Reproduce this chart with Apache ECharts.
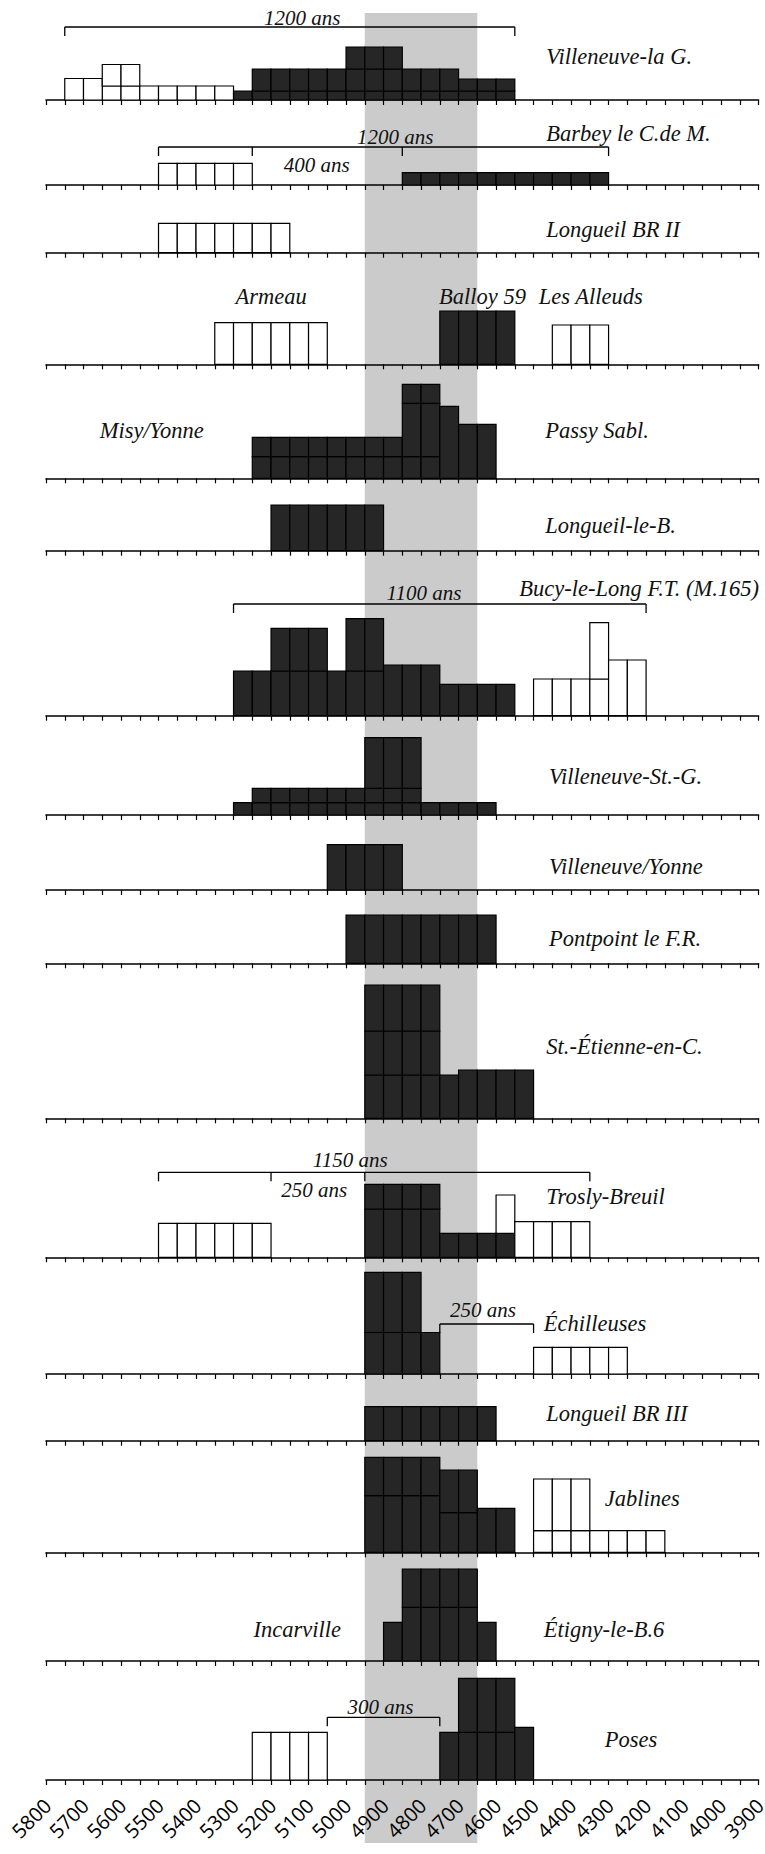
<!DOCTYPE html>
<html>
<head>
<meta charset="utf-8">
<script src="https://cdn.jsdelivr.net/npm/echarts@6/dist/echarts.min.js"></script>
<style>
html,body{margin:0;padding:0;background:#fff}
#chart{width:765px;height:1854px}
</style>
</head>
<body>
<div id="chart"></div>
<script>
// axe des ans : 5800 (gauche) -> 3900 (droite), une case = 50 ans
var yearMin = 3900, yearMax = 5800, cellYears = 50;
var tickLabels = ['5800','5700','5600','5500','5400','5300','5200','5100','5000','4900',
                  '4800','4700','4600','4500','4400','4300','4200','4100','4000','3900'];
var bandYears = [4950, 4650];

// blocs : [type, de, a, hauteur]  b = noir, w = blanc ; empiles de bas en haut
var villeneuveLaG = [['w',5650,5300,14],['w',5750,5550,21.5],['b',5300,4550,9],['b',5250,4700,22],['b',5000,4850,22],['b',4700,4550,12]];
var barbey = [['w',5500,5250,21.7],['b',4850,4300,12.3]];
var longueilBR2 = [['w',5500,5150,29.3]];
var armeauBalloy = [['w',5350,5050,41.7],['b',4750,4550,53.3],['w',4450,4300,39.3]];
var passySabl = [['b',5250,4750,21.7],['b',5250,4850,19.3],['b',4850,4750,53.3],['b',4850,4750,19],['b',4750,4700,72],['b',4700,4600,54]];
var longueilLeB = [['b',5200,4900,45.7]];
var bucy = [['b',5300,4900,44.7],['b',5200,5050,42.6],['b',5000,4900,52.3],['b',4900,4750,50.7],['b',4750,4550,31.3],
            ['w',4500,4300,36.7],['w',4350,4300,56.3],['w',4300,4200,55.7]];
var villeneuveStG = [['b',5300,4600,12.3],['b',5250,4800,14.4],['b',4950,4800,50.6]];
var villeneuveYonne = [['b',5050,4850,45.3]];
var pontpoint = [['b',5000,4600,48.3]];
var stEtienne = [['b',4950,4700,43.3],['b',4950,4750,44],['b',4950,4750,46],['b',4700,4500,48.3]];
var trosly = [['w',5500,5200,34],['b',4950,4750,48.3],['b',4950,4750,24.7],['b',4750,4550,24],['w',4600,4550,38.3],['w',4550,4350,35.7]];
var echilleuses = [['b',4950,4750,41.5],['b',4950,4800,60.2],['w',4500,4250,26.7]];
var longueilBR3 = [['b',4950,4600,34]];
var jablines = [['b',4950,4750,56.7],['b',4950,4750,38.3],['b',4750,4650,39.7],['b',4750,4650,42.6],['b',4650,4550,44],
                ['w',4500,4150,21.7],['w',4500,4350,51.6]];
var etigny = [['b',4900,4850,38.7],['b',4850,4650,53.7],['b',4850,4650,38.3],['b',4650,4600,38.7]];
var poses = [['w',5250,5050,47.7],['b',4750,4550,47.7],['b',4700,4550,54],['b',4550,4500,52.7]];

var siteNames = [['Villeneuve-la G.'],['Barbey le C.de M.'],['Longueil BR II'],['Armeau','Balloy 59','Les Alleuds'],
  ['Misy/Yonne','Passy Sabl.'],['Longueil-le-B.'],['Bucy-le-Long F.T. (M.165)'],['Villeneuve-St.-G.'],['Villeneuve/Yonne'],
  ['Pontpoint le F.R.'],['St.-Étienne-en-C.'],['Trosly-Breuil'],['Échilleuses'],['Longueil BR III'],['Jablines'],
  ['Incarville','Étigny-le-B.6'],['Poses']];

// durees : [panneau, bornes (ans)] et [panneau, texte]
var spanBounds = [[0,[5750,4550]],[1,[5500,5250,4850,4300]],[6,[5300,4200]],[11,[5500,5200,4950,4350]],[12,[4750,4500]],[16,[5050,4750]]];
var spanTexts = [[0,'1200 ans'],[1,'1200 ans'],[1,'400 ans'],[6,'1100 ans'],[11,'1150 ans'],[11,'250 ans'],[12,'250 ans'],[16,'300 ans']];

// mise en page
var panels = [villeneuveLaG,barbey,longueilBR2,armeauBalloy,passySabl,longueilLeB,bucy,villeneuveStG,villeneuveYonne,
              pontpoint,stEtienne,trosly,echilleuses,longueilBR3,jablines,etigny,poses];
var baselines = [100,185,252.7,364.3,478.3,550.7,715.7,815,890,963.3,1118.3,1257.3,1374,1440.7,1552.3,1661,1780];
var namePlace = [[[4466,44]],[[4466,52]],[[4466,23.7]],[[5295,68.3],[4752,68.3],[4486,68.3]],[[5657,48.3],[4469,48.3]],
  [[4469,25.7]],[[4538,127.7]],[[4459,38.3]],[[4459,23.3]],[[4459,25.3]],[[4466,71.6]],[[4466,60.6]],[[4473,50.7]],
  [[4466,27.4]],[[4310,54]],[[5247,31.7],[4473,31.7]],[[4310,40.7]]];
var spanLevel = [73,38,111.7,85,50,62.7];
var spanTextPlace = [[5117,82],[4869,48],[5078,20],[4792,122.7],[4989,97.3],[5085,67.3],[4635,64],[4908,73.3]];
var HMAX = 130, LEFT = 46, RIGHT = 6.4, DROP = 9, LABEL_DOWN = 22;
var FONT = '"Liberation Serif", "Times New Roman", serif';

function cellsOf(blocks){
	var stack = {}, out = [];
	blocks.forEach(function(b){
		for (var y = b[1]; y > b[2]; y -= cellYears){
			var base = stack[y] || 0;
			out.push([y, y - cellYears, base, base + b[3], b[0] === 'b' ? 1 : 0]);
			stack[y] = base + b[3];
		}
	});
	return out;
}

function renderCell(params, api){
	var p0 = api.coord([api.value(0), api.value(3)]);
	var p1 = api.coord([api.value(1), api.value(2)]);
	var black = api.value(4) === 1;
	return {
		type: 'rect',
		shape: {x: p0[0], y: p0[1], width: p1[0] - p0[0], height: p1[1] - p0[1]},
		style: {fill: black ? '#262626' : '#fff', stroke: '#000', lineWidth: 1.2}
	};
}

function renderSeg(params, api){
	var a = api.coord([api.value(0), api.value(1)]);
	var b = api.coord([api.value(2), api.value(3)]);
	return {type: 'line', shape: {x1: a[0], y1: a[1], x2: b[0], y2: b[1]}, style: {stroke: '#000', lineWidth: 1.3}};
}

function textRenderer(texts, align, size){
	return function(params, api){
		var p = api.coord([api.value(0), api.value(1)]);
		var t = texts[params.dataIndex];
		return {
			type: 'text', x: p[0], y: p[1],
			style: {text: t, font: 'italic ' + size + 'px ' + FONT, fill: '#111',
				align: align, verticalAlign: 'middle', textAlign: align, textVerticalAlign: 'middle'}
		};
	};
}

// etiquettes de l'axe du bas, tournees a 45 degres
function renderTickLabel(params, api){
	var p = api.coord([api.value(0), 0]);
	return {
		type: 'text', x: p[0] + 1.5, y: p[1] + LABEL_DOWN, rotation: Math.PI / 4,
		style: {text: tickLabels[params.dataIndex], font: '20px "Open Sans", "DejaVu Sans", sans-serif', fill: '#000',
			align: 'right', verticalAlign: 'middle', textAlign: 'right', textVerticalAlign: 'middle'}
	};
}

var grids = [], xAxes = [], yAxes = [], series = [];

// bande grise
grids.push({left: LEFT, right: RIGHT, top: 13, bottom: 11, outerBoundsMode: 'none'});
xAxes.push({gridIndex: 0, type: 'value', min: yearMin, max: yearMax, inverse: true, show: false});
yAxes.push({gridIndex: 0, type: 'value', min: 0, max: 1, show: false});
series.push({
	type: 'custom', xAxisIndex: 0, yAxisIndex: 0, z: 0, silent: true,
	data: [bandYears],
	renderItem: function(params, api){
		var a = api.coord([api.value(0), 1]);
		var b = api.coord([api.value(1), 0]);
		return {type: 'rect', shape: {x: a[0], y: a[1], width: b[0] - a[0], height: b[1] - a[1]}, style: {fill: '#cbcbcb'}};
	}
});

panels.forEach(function(blocks, i){
	var g = i + 1;
	var H = Math.min(HMAX, baselines[i] - 2);
	grids.push({left: LEFT, right: RIGHT, top: baselines[i] - H, height: H, outerBoundsMode: 'none'});
	xAxes.push({
		gridIndex: g, type: 'value', min: yearMin, max: yearMax, interval: cellYears, inverse: true, z: 1,
		axisLine: {lineStyle: {color: '#000', width: 1.6}},
		axisTick: {length: 5, lineStyle: {color: '#000', width: 1.2}},
		splitLine: {show: false},
		axisLabel: {show: false}
	});
	yAxes.push({gridIndex: g, type: 'value', min: 0, max: H, show: false});
	series.push({
		type: 'custom', xAxisIndex: g, yAxisIndex: g, z: 2, silent: true,
		data: cellsOf(blocks), encode: {x: [0, 1], y: [2, 3]},
		renderItem: renderCell
	});
	// noms des sites
	series.push({
		type: 'custom', xAxisIndex: g, yAxisIndex: g, z: 3, silent: true,
		data: namePlace[i], renderItem: textRenderer(siteNames[i], 'left', 22.5)
	});
	// durees
	var segs = [], labels = [], labelPos = [];
	spanBounds.forEach(function(s, k){
		if (s[0] !== i) return;
		var pts = s[1], lv = spanLevel[k];
		segs.push([pts[0], lv, pts[pts.length - 1], lv]);
		pts.forEach(function(p){ segs.push([p, lv, p, lv - DROP]); });
	});
	spanTexts.forEach(function(s, k){
		if (s[0] !== i) return;
		labels.push(s[1]);
		labelPos.push(spanTextPlace[k]);
	});
	if (segs.length){
		series.push({type: 'custom', xAxisIndex: g, yAxisIndex: g, z: 3, silent: true, data: segs, renderItem: renderSeg});
		series.push({type: 'custom', xAxisIndex: g, yAxisIndex: g, z: 3, silent: true, data: labelPos, renderItem: textRenderer(labels, 'center', 21)});
	}
});

// etiquettes de l'axe sous le dernier panneau
var lastG = panels.length;
series.push({
	type: 'custom', xAxisIndex: lastG, yAxisIndex: lastG, z: 3, silent: true,
	data: tickLabels.map(function(t){ return [Number(t)]; }),
	renderItem: renderTickLabel
});

var myChart = echarts.init(document.getElementById('chart'), null, {renderer: 'svg'});
myChart.setOption({animation: false, grid: grids, xAxis: xAxes, yAxis: yAxes, series: series});
</script>
</body>
</html>
